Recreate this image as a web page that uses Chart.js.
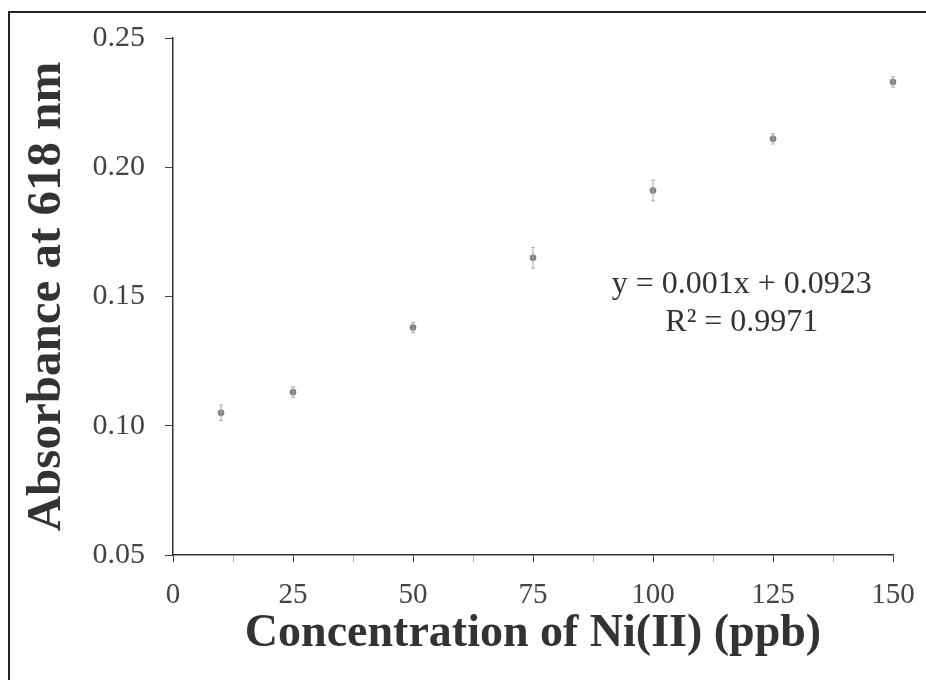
<!DOCTYPE html>
<html>
<head>
<meta charset="utf-8">
<script src="https://cdn.jsdelivr.net/npm/chart.js@4/dist/chart.umd.min.js"></script>
<style>
  html, body { margin: 0; padding: 0; background: #fff; }
  #wrap { width: 926px; height: 680px; }
</style>
</head>
<body>
<div id="wrap"><canvas id="c" width="926" height="680"></canvas></div>
<script>
const concentrations = [10, 25, 50, 75, 100, 125, 150];
const absorbance = [0.105, 0.113, 0.138, 0.165, 0.191, 0.211, 0.233];
const errors = [0.003, 0.002, 0.002, 0.004, 0.004, 0.002, 0.002];
const equationLines = ["y = 0.001x + 0.0923", "R\u00b2 = 0.9971"];
const equationAt = [118.5, 0.1545, 0.1398];

const serif = "'Liberation Serif', 'Times New Roman', serif";

// frame around the figure (only left and top edges visible)
const framePlugin = {
  id: "frame",
  beforeDraw(chart) {
    const ctx = chart.ctx;
    ctx.save();
    ctx.strokeStyle = "#222";
    ctx.lineWidth = 2;
    ctx.beginPath();
    ctx.moveTo(9, 680);
    ctx.lineTo(9, 12);
    ctx.lineTo(926, 12);
    ctx.stroke();
    ctx.restore();
  }
};

const errorBars = {
  id: "errorBars",
  afterDatasetsDraw(chart) {
    const ctx = chart.ctx, x = chart.scales.x, y = chart.scales.y;
    ctx.save();
    ctx.strokeStyle = "#aaa";
    ctx.lineWidth = 1;
    concentrations.forEach((c, i) => {
      const px = x.getPixelForValue(c);
      const top = y.getPixelForValue(absorbance[i] + errors[i]);
      const bot = y.getPixelForValue(absorbance[i] - errors[i]);
      ctx.beginPath();
      ctx.moveTo(px, top); ctx.lineTo(px, bot);
      ctx.moveTo(px - 2, top); ctx.lineTo(px + 2, top);
      ctx.moveTo(px - 2, bot); ctx.lineTo(px + 2, bot);
      ctx.stroke();
    });
    ctx.restore();
  }
};

const equation = {
  id: "equation",
  afterDraw(chart) {
    const ctx = chart.ctx, x = chart.scales.x, y = chart.scales.y;
    ctx.save();
    ctx.fillStyle = "#333";
    ctx.font = "32px " + serif;
    ctx.textAlign = "center";
    ctx.textBaseline = "middle";
    const px = x.getPixelForValue(equationAt[0]);
    ctx.fillText(equationLines[0], px, y.getPixelForValue(equationAt[1]));
    ctx.fillText(equationLines[1], px, y.getPixelForValue(equationAt[2]));
    ctx.restore();
  }
};

new Chart(document.getElementById("c"), {
  type: "scatter",
  data: {
    datasets: [{
      label: "Absorbance",
      data: concentrations.map((c, i) => ({ x: c, y: absorbance[i] })),
      backgroundColor: "#808080",
      borderColor: "#808080",
      pointRadius: 3,
      pointHoverRadius: 3,
      clip: false
    }]
  },
  options: {
    responsive: false,
    animation: false,
    layout: { padding: { left: 0, right: 33, top: 38, bottom: 0 } },
    plugins: { legend: { display: false }, tooltip: { enabled: false } },
    scales: {
      x: {
        type: "linear",
        min: 0,
        max: 150,
        afterFit(s) { s.height = 125; s.paddingRight = 0; s.paddingLeft = 0; },
        border: { color: "#333", width: 1.5 },
        grid: {
          drawOnChartArea: false,
          tickLength: 7,
          tickColor: ctx => (ctx.tick && ctx.tick.value % 25 === 0) ? "#444" : "#aaa"
        },
        ticks: {
          stepSize: 12.5,
          autoSkip: false,
          maxRotation: 0,
          padding: 16,
          color: "#444",
          font: { family: serif, size: 29 },
          callback: v => (v % 25 === 0 ? v : "")
        },
        title: {
          display: true,
          text: "Concentration of Ni(II) (ppb)",
          color: "#333",
          font: { family: serif, size: 46, weight: "bold" },
          padding: { top: 0, bottom: 18 }
        }
      },
      y: {
        min: 0.05,
        max: 0.25,
        afterFit(s) { s.width = 173; s.paddingTop = 0; s.paddingBottom = 0; },
        border: { color: "#333", width: 1.5 },
        grid: { drawOnChartArea: false, tickLength: 8, tickColor: "#444" },
        ticks: {
          stepSize: 0.05,
          padding: 20,
          color: "#444",
          font: { family: serif, size: 30 },
          callback: v => v.toFixed(2)
        },
        title: {
          display: true,
          text: "Absorbance at 618 nm",
          color: "#333",
          font: { family: serif, size: 49, weight: "bold" },
          padding: { top: 18, bottom: 0 }
        }
      }
    }
  },
  plugins: [framePlugin, errorBars, equation]
});
</script>
</body>
</html>
